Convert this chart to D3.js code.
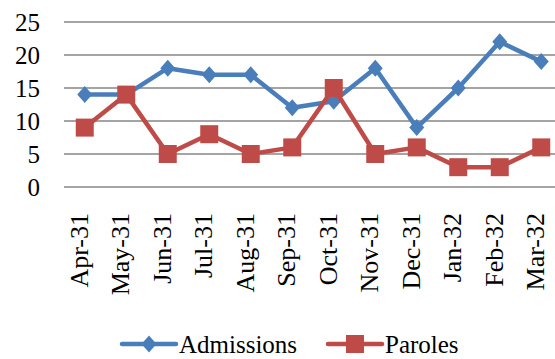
<!DOCTYPE html>
<html>
<head>
<meta charset="utf-8">
<script src="https://cdn.jsdelivr.net/npm/d3@7"></script>
<style>
  html, body { margin: 0; padding: 0; background: #fff; }
  svg { display: block; }
</style>
</head>
<body>
<svg id="chart" width="555" height="359"></svg>
<script>
// Monthly admissions and paroles, April 1931 – March 1932
const months = ["Apr-31", "May-31", "Jun-31", "Jul-31", "Aug-31", "Sep-31",
                "Oct-31", "Nov-31", "Dec-31", "Jan-32", "Feb-32", "Mar-32"];
const admissions = [14, 14, 18, 17, 17, 12, 13, 18, 9, 15, 22, 19];
const paroles = [9, 14, 5, 8, 5, 6, 15, 5, 6, 3, 3, 6];
const yTicks = [0, 5, 10, 15, 20, 25];

const series = [
  { name: "Admissions", values: admissions, color: "#4a7ebb", shape: "diamond" },
  { name: "Paroles", values: paroles, color: "#be4b48", shape: "square" }
];

const FONT = "Liberation Serif";
const svg = d3.select("#chart");
const plot = { left: 64, right: 562, top: 22, bottom: 187 };

const x = d3.scaleBand().domain(months).range([plot.left, plot.right]);
const y = d3.scaleLinear().domain([0, 25]).range([plot.bottom, plot.top]);

// Horizontal gridlines
svg.append("g")
  .selectAll("line")
  .data(yTicks)
  .join("line")
  .attr("x1", plot.left)
  .attr("x2", 555)
  .attr("y1", d => y(d))
  .attr("y2", d => y(d))
  .attr("stroke", "#868686")
  .attr("stroke-width", 1.5);

// Y axis labels
const yAxis = svg.append("g")
  .attr("transform", `translate(${plot.left},0)`)
  .call(d3.axisLeft(y).tickValues(yTicks).tickSize(0).tickPadding(24));
yAxis.attr("font-family", FONT);
yAxis.select(".domain").remove();
yAxis.selectAll("text")
  .attr("font-family", FONT)
  .attr("font-size", 25)
  .attr("fill", "#000");

// X axis labels, rotated
const xAxis = svg.append("g")
  .attr("transform", `translate(0,${plot.bottom})`)
  .call(d3.axisBottom(x).tickSize(0));
xAxis.attr("font-family", FONT);
xAxis.select(".domain").remove();
xAxis.selectAll("text")
  .attr("font-family", FONT)
  .attr("font-size", 26)
  .attr("fill", "#000")
  .attr("text-anchor", "end")
  .attr("dy", null)
  .attr("y", 0)
  .attr("transform", "translate(3,26) rotate(-90)");

const cx = d => x(d) + x.bandwidth() / 2;

function marker(sel, shape, color) {
  if (shape === "diamond") {
    sel.append("path")
      .attr("d", "M0,-8.5L7.5,0L0,8.5L-7.5,0Z")
      .attr("fill", color);
  } else {
    sel.append("rect")
      .attr("x", -9).attr("y", -9)
      .attr("width", 18).attr("height", 18)
      .attr("fill", color);
  }
}

const line = d3.line()
  .x((d, i) => cx(months[i]))
  .y(d => y(d));

series.forEach(s => {
  const g = svg.append("g");
  g.append("path")
    .attr("d", line(s.values))
    .attr("fill", "none")
    .attr("stroke", s.color)
    .attr("stroke-width", 4.5)
    .attr("stroke-linejoin", "round");
  g.selectAll("g.pt")
    .data(s.values)
    .join("g")
    .attr("class", "pt")
    .attr("transform", (d, i) => `translate(${cx(months[i])},${y(d)})`)
    .each(function () { marker(d3.select(this), s.shape, s.color); });
});

// Legend
const legendPos = [122, 328];
series.forEach((s, i) => {
  const g = svg.append("g").attr("transform", `translate(${legendPos[i]},344)`);
  g.append("line")
    .attr("x1", 0).attr("x2", 54)
    .attr("stroke", s.color)
    .attr("stroke-width", 4.5)
    .attr("stroke-linecap", "round");
  const m = g.append("g").attr("transform", "translate(27,0)");
  marker(m, s.shape, s.color);
  g.append("text")
    .attr("x", 57)
    .attr("y", 0)
    .attr("dy", "0.35em")
    .attr("font-family", FONT)
    .attr("font-size", 25)
    .attr("fill", "#000")
    .text(s.name);
});
</script>
</body>
</html>
